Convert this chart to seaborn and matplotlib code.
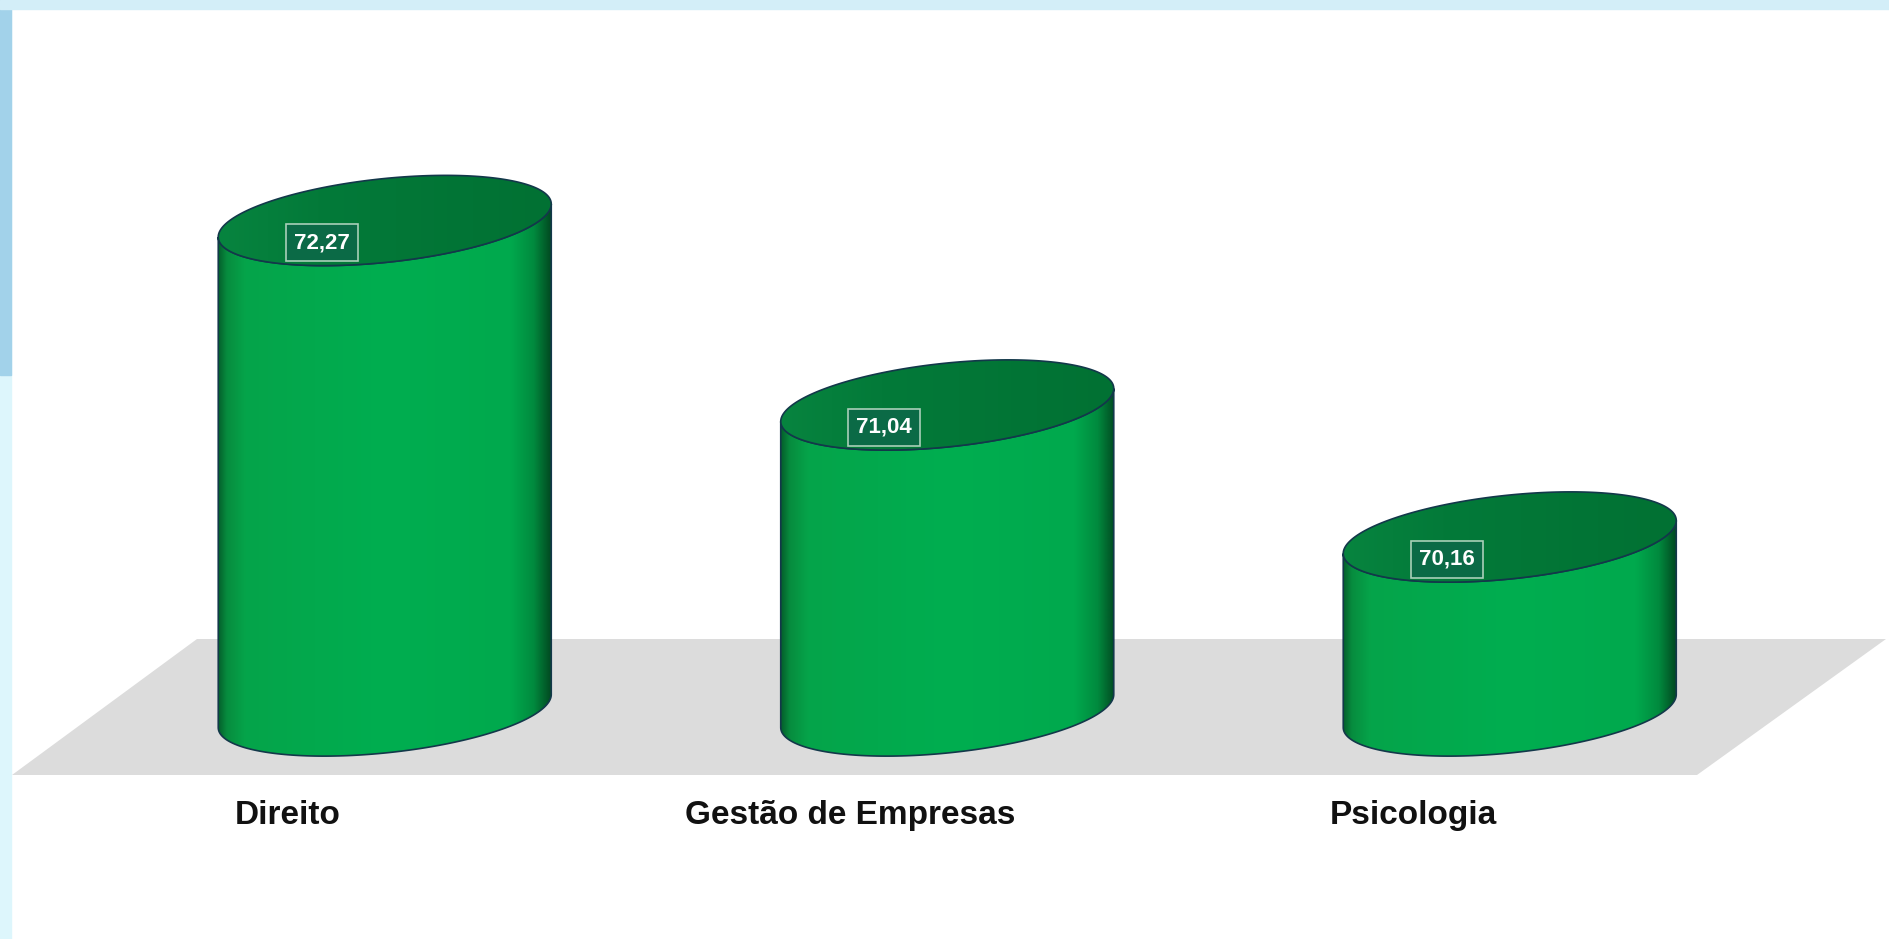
import numpy as np
import matplotlib
matplotlib.use("Agg")
import matplotlib.pyplot as plt
from matplotlib.patches import Polygon, Rectangle
from matplotlib.colors import LinearSegmentedColormap
import pandas as pd
import seaborn as sns

# ---- data -------------------------------------------------------------
courses = ["Direito", "Gestão de Empresas", "Psicologia"]
scores = [72.27, 71.04, 70.16]
score_labels = ["72,27", "71,04", "70,16"]

# ---- scale / geometry settings ----------------------------------------
BASE = 69.0                      # value at which the cylinders stand
Y_MIN, Y_MAX = 67.48, 73.74
X_MIN, X_MAX = -0.684, 2.676
BAR_WIDTH = 0.592
ELL_B = 0.28                     # half depth of the elliptic caps (value units)
ELL_SHEAR = 0.11                 # oblique tilt of the caps (value units)

sns.set_theme(style="white")
plt.rcParams["font.family"] = ["Liberation Sans", "DejaVu Sans"]

fig = plt.figure(figsize=(18.9, 9.39), dpi=100)
fig.patch.set_facecolor("white")

# slide frame: thin light-blue strips on the left and at the top
W, H = 1890.0, 939.0
fig.patches.append(Rectangle((0, 0), 11 / W, 1, transform=fig.transFigure,
                             color="#ddf6fc", zorder=0))
fig.patches.append(Rectangle((0, 1 - 375 / H), 11 / W, 375 / H,
                             transform=fig.transFigure, color="#a2d2ea", zorder=0))
fig.patches.append(Rectangle((0, 1 - 9 / H), 1, 9 / H, transform=fig.transFigure,
                             color="#d3eef8", zorder=0))

ax = fig.add_axes([0, 0, 1, 1])
ax.patch.set_alpha(0)

df = pd.DataFrame({"curso": courses, "media": scores})
sns.barplot(data=df, x="curso", y="media", ax=ax, width=BAR_WIDTH,
            color="white", errorbar=None)
bars = list(ax.patches)
for p in bars:
    p.set_alpha(0)

# grey floor plane
floor = Polygon([(12 / W, 1 - 775 / H), (1697 / W, 1 - 775 / H),
                 (1886 / W, 1 - 639 / H), (197 / W, 1 - 639 / H)],
                closed=True, transform=ax.transAxes, fc="#dcdcdc", ec="none",
                zorder=1)
ax.add_patch(floor)

side_cmap = LinearSegmentedColormap.from_list(
    "side", [(0.0, "#04612d"), (0.025, "#078c3e"), (0.08, "#05a44a"),
             (0.5, "#00ae50"), (0.88, "#00a94d"), (0.95, "#018a3e"),
             (1.0, "#014c22")])
top_cmap = LinearSegmentedColormap.from_list(
    "top", [(0.0, "#07843f"), (0.3, "#037a39"), (1.0, "#017133")])
edge = "#13384a"


def cap(cx, cy, a, t):
    return np.column_stack([cx + a * np.cos(t),
                            cy + ELL_B * np.sin(t) + ELL_SHEAR * np.cos(t)])


for i, (p, val, lab) in enumerate(zip(bars, scores, score_labels)):
    cx = p.get_x() + p.get_width() / 2
    a = p.get_width() / 2
    top = p.get_height()

    front = np.linspace(np.pi, 2 * np.pi, 120)
    top_front = cap(cx, top, a, front)
    bottom_front = cap(cx, BASE, a, front)[::-1]
    body = Polygon(np.vstack([top_front, bottom_front]), closed=True,
                   fc="none", ec=edge, lw=1.2, zorder=3)
    ax.add_patch(body)
    im = ax.imshow(np.linspace(0, 1, 256)[np.newaxis, :], cmap=side_cmap,
                   extent=(cx - a, cx + a, BASE - 0.5, top + 0.5),
                   aspect="auto", zorder=2.5, interpolation="bilinear")
    im.set_clip_path(body)

    full = np.linspace(0, 2 * np.pi, 240)
    lid = Polygon(cap(cx, top, a, full), closed=True, fc="none", ec=edge,
                  lw=1.2, zorder=5)
    ax.add_patch(lid)
    im2 = ax.imshow(np.linspace(0, 1, 256)[np.newaxis, :], cmap=top_cmap,
                    extent=(cx - a, cx + a, top - 0.5, top + 0.5),
                    aspect="auto", zorder=4, interpolation="bilinear")
    im2.set_clip_path(lid)

    ax.text(cx - 0.112, top - 0.147, lab, ha="center", va="center",
            color="white", fontsize=16, fontweight="bold", zorder=7,
            bbox=dict(boxstyle="square,pad=0.36", fc="#0b6a46",
                      ec="#a9cfb9", lw=1.2))

    ax.text(cx - 0.172, 68.247, courses[i],
            ha="center", va="baseline", fontsize=24, fontweight="bold",
            color="#111111", zorder=6)

ax.set_xlim(X_MIN, X_MAX)
ax.set_ylim(Y_MIN, Y_MAX)
ax.axis("off")

fig.savefig("out.png", dpi=100)
